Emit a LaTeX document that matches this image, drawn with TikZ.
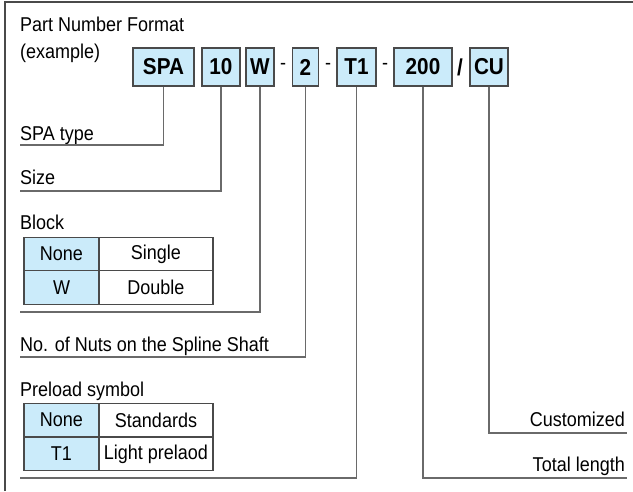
\documentclass[tikz,border=0pt]{standalone}
\usepackage{fontspec}
\setmainfont[FakeStretch=0.9]{Liberation Sans}
\definecolor{cellblue}{HTML}{CBEBFA}
\definecolor{boxline}{HTML}{4A4A4A}
\definecolor{conn}{HTML}{6A6A6A}
\begin{document}
\begin{tikzpicture}[x=1pt,y=-1pt,
  lbl/.style={inner sep=0pt,anchor=base west,font=\fontsize{20}{24}\selectfont},
  rlbl/.style={inner sep=0pt,anchor=base east,font=\fontsize{20}{24}\selectfont},
  pbox/.style={draw=boxline,line width=1.3pt,fill=cellblue,inner sep=0pt,minimum height=38pt,font=\fontsize{23}{26}\selectfont\bfseries},
  sep/.style={inner sep=0pt,font=\fontsize{20}{24}\selectfont},
  bcell/.style={draw=boxline,line width=1.1pt,fill=cellblue,inner sep=0pt,minimum width=75pt,minimum height=33.5pt,font=\fontsize{20}{24}\selectfont},
  wcell/.style={draw=boxline,line width=1.1pt,fill=white,inner sep=0pt,minimum width=114pt,minimum height=33.5pt,font=\fontsize{20}{24}\selectfont},
  link/.style={draw=conn,line width=1.2pt}
]
\useasboundingbox (0,0) rectangle (633,491);
% frame
\draw[boxline,line width=1.4pt] (5,491) -- (5,2) -- (633,2);
% title
\node[lbl] (title1) at (20,31) {Part Number Format};
\node[lbl] (title2) at (20,58) {(example)};
% part number boxes
\node[pbox,minimum width=61pt] (spa) at (163.5,67) {SPA};
\node[pbox,minimum width=38pt] (b10) at (221,67) {10};
\node[pbox,minimum width=28pt] (bw) at (260,67) {W};
\node[sep] (d1) at (283,66) {-};
\node[pbox,minimum width=26pt] (b2) at (305.5,67) {2};
\node[sep] (d2) at (328,66) {-};
\node[pbox,minimum width=39pt] (bt1) at (356.5,67) {T1};
\node[sep] (d3) at (385,66) {-};
\node[pbox,minimum width=58pt] (b200) at (423,67) {200};
\node[sep,font=\fontsize{23}{26}\selectfont\bfseries] (sl) at (460,67) {/};
\node[pbox,minimum width=38pt] (bcu) at (489,67) {CU};
% labels
\node[lbl] (lspa) at (20,140) {SPA type};
\node[lbl] (lsize) at (20,184) {Size};
\node[lbl] (lblock) at (20,229) {Block};
\node[lbl] (lnuts) at (20,351) {No. of Nuts on the Spline Shaft};
\node[lbl] (lpre) at (20,396) {Preload symbol};
\node[rlbl] (lcu) at (625,426) {Customized};
\node[rlbl] (ltot) at (625,471) {Total length};
% label lines end points
\coordinate (e1) at (20,145);
\coordinate (e2) at (20,191);
\coordinate (e3) at (20,312);
\coordinate (e4) at (20,357);
\coordinate (e5) at (20,478);
\coordinate (e6) at (627,478);
\coordinate (e7) at (627,433);
\draw[link] (spa.south) |- (e1);
\draw[link] (b10.south) |- (e2);
\draw[link] (bw.south) |- (e3);
\draw[link] (b2.south) |- (e4);
\draw[link] (bt1.south) |- (e5);
\draw[link] (b200.south) |- (e6);
\draw[link] (bcu.south) |- (e7);
% block table
\node[bcell] (bn) at (61.5,254) {None};
\node[wcell] (bs) at (156,254) {Single};
\node[bcell] (bww) at (61.5,287.5) {W};
\node[wcell] (bd) at (156,287.5) {Double};
% preload table
\node[bcell] (pn) at (61.5,420) {None};
\node[wcell] (ps) at (156,420) {Standards};
\node[bcell] (pt) at (61.5,454) {T1};
\node[wcell] (pl) at (156,454) {Light prelaod};
\end{tikzpicture}
\end{document}
